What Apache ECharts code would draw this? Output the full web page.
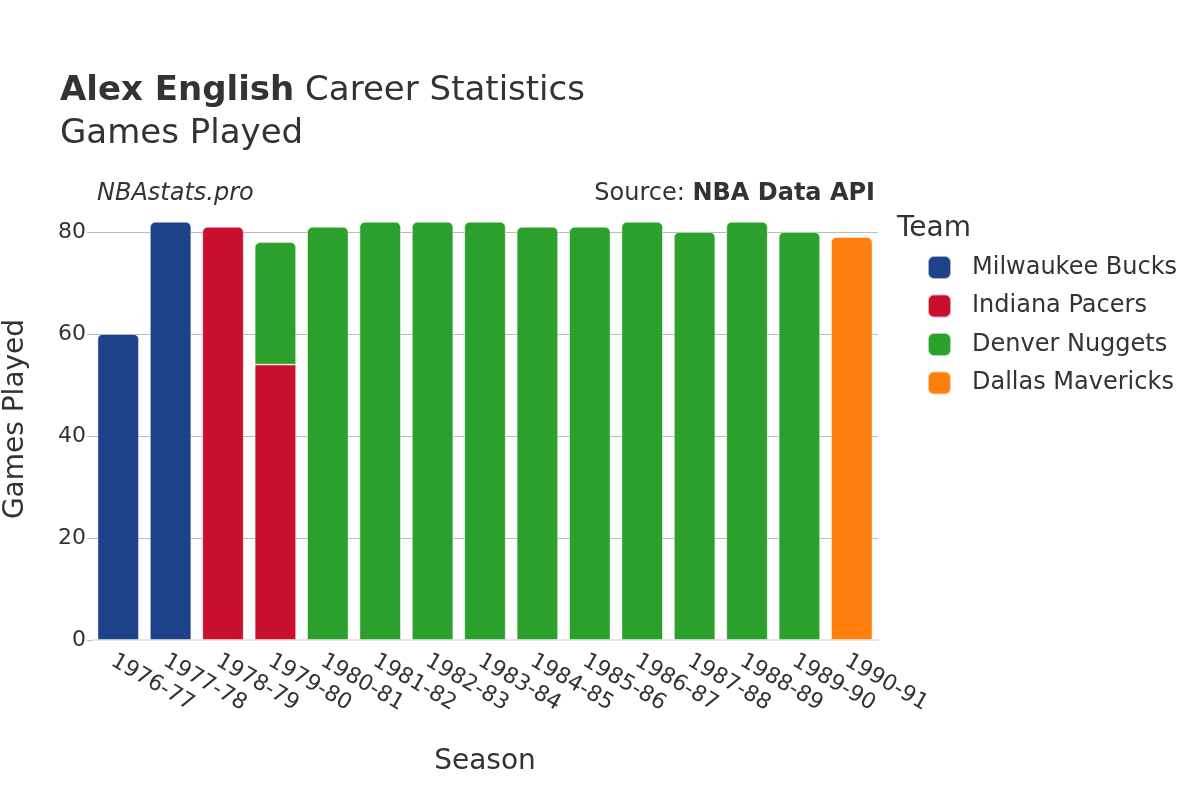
<!DOCTYPE html>
<html><head><meta charset="utf-8">
<script src="https://cdn.jsdelivr.net/npm/echarts@6/dist/echarts.min.js"></script>
<style>html,body{margin:0;padding:0;background:#fff}#c{width:1200px;height:800px}</style>
</head><body><div id="c"></div>
<script>
const seasons = ['1976-77','1977-78','1978-79','1979-80','1980-81','1981-82','1982-83','1983-84','1984-85','1985-86','1986-87','1987-88','1988-89','1989-90','1990-91'];
const teams = ['Milwaukee Bucks','Indiana Pacers','Denver Nuggets','Dallas Mavericks'];
const colors = ['#1d428a','#c8102e','#2ca02c','#ff7f0e'];
const bucks   = [60,82,null,null,null,null,null,null,null,null,null,null,null,null,null];
const pacers  = [null,null,81,54,null,null,null,null,null,null,null,null,null,null,null];
const nuggets = [null,null,null,24,81,82,82,82,81,81,82,80,82,80,null];
const mavs    = [null,null,null,null,null,null,null,null,null,null,null,null,null,null,79];
const values = [bucks,pacers,nuggets,mavs];

const font = "'DejaVu Sans', 'Noto Sans', sans-serif";
const chart = echarts.init(document.getElementById('c'));

function topIndex(i){ let t=-1; values.forEach((v,k)=>{ if(v[i]!=null) t=k; }); return t; }

const series = teams.map((name,k)=>({
  name, type:'bar', stack:'total', barCategoryGap:'21%', clip:false,
  itemStyle:{color:colors[k], borderColor:'rgba(255,255,255,0.6)', borderWidth:0.8},
  data: values[k].map((v,i)=> v==null? null : {value:v, itemStyle:{borderRadius: topIndex(i)===k?[5,5,0,0]:0}})
}));

chart.setOption({
  animation:false,
  textStyle:{fontFamily:font},
  grid:{left:92, right:322, top:232, bottom:160, containLabel:false},
  graphic:[
    {type:'text', left:60, top:74, style:{text:'{b|Alex English} Career Statistics', fontFamily:font, fontSize:34, fill:'#333', rich:{b:{fontWeight:'bold', fontSize:34, fontFamily:font, fill:'#333'}}}},
    {type:'text', left:60, top:117, style:{text:'Games Played', fontFamily:font, fontSize:34, fill:'#333'}},
    {type:'text', left:97, top:182, style:{text:'NBAstats.pro', fontFamily:font, fontSize:24, fontStyle:'italic', fill:'#333'}},
    {type:'text', right:325, top:182, style:{text:'Source: {b|NBA Data API}', fontFamily:font, fontSize:24, fill:'#333', rich:{b:{fontWeight:'bold', fontSize:24, fontFamily:font, fill:'#333'}}}},
    {type:'text', left:897, top:215, style:{text:'Team', fontFamily:font, fontSize:28, fill:'#333'}},
    {type:'text', x:16, y:419, rotation:Math.PI/2, style:{text:'Games Played', fontFamily:font, fontSize:28, fill:'#333', align:'center', verticalAlign:'middle'}}
  ],
  legend:{
    orient:'vertical', left:922, top:250, itemWidth:23, itemHeight:23, itemGap:13.5,
    icon:'roundRect', data:teams,
    textStyle:{fontSize:24, color:'#333', fontFamily:font, padding:[0,0,0,16]}
  },
  xAxis:{
    type:'category', data:seasons,
    name:'Season', nameLocation:'middle', nameGap:108,
    nameTextStyle:{fontSize:28, color:'#333', fontFamily:font},
    axisLine:{show:true, lineStyle:{color:'#e6e6e6', width:2}},
    axisTick:{show:false},
    axisLabel:{rotate:-30, fontSize:22, color:'#333', fontFamily:font, margin:10, interval:0, align:'left', verticalAlign:'top'}
  },
  yAxis:{
    type:'value', min:0, max:80, interval:20,
    axisLine:{show:false},
    axisTick:{show:true, length:5, lineStyle:{color:'#bbb'}},
    axisLabel:{fontSize:22, color:'#333', fontFamily:font, margin:6},
    splitLine:{lineStyle:{color:'#bbb', width:1}}
  },
  series
});
</script></body></html>
